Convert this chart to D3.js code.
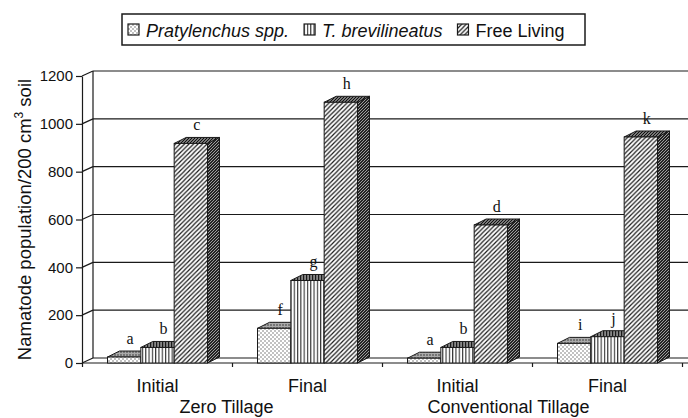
<!DOCTYPE html>
<html>
<head>
<meta charset="utf-8">
<script src="https://cdn.jsdelivr.net/npm/d3@7"></script>
<style>
  body { margin: 0; background: #fff; }
  text { font-family: "Liberation Sans", Arial, sans-serif; fill: #111; }
  .letter { font-family: "Liberation Serif", "Times New Roman", serif; }
</style>
</head>
<body>
<div class="chart"></div>
<script>
const categories = ['Initial', 'Final', 'Initial', 'Final']
const groups = ['Zero Tillage', 'Conventional Tillage']
const seriesNames = ['Pratylenchus spp.', 'T. brevilineatus', 'Free Living']
const pratylenchus = [25, 145, 20, 82]
const brevilineatus = [65, 345, 65, 110]
const freeLiving = [918, 1090, 577, 945]
const pratLetters = ['a', 'f', 'a', 'i']
const brevLetters = ['b', 'g', 'b', 'j']
const freeLetters = ['c', 'h', 'd', 'k']
const yTicks = [0, 200, 400, 600, 800, 1000, 1200]

const width = 688, height = 418
const depth = {x: 11, y: -5}      // wall depth
const barDepth = {x: 12, y: -6}   // bar depth
const ink = '#1a1a1a'

const svg = d3.select('.chart').append('svg')
    .attr('width', width)
    .attr('height', height)

const defs = svg.append('defs')

// patterns
function pattern(id, w, h, draw){
    const p = defs.append('pattern').attr('id', id)
        .attr('patternUnits', 'userSpaceOnUse')
        .attr('width', w).attr('height', h)
    draw(p)
}
pattern('dots', 4, 4, p => {
    p.append('rect').attr('width', 4).attr('height', 4).attr('fill', '#fff')
    p.append('circle').attr('cx', 1).attr('cy', 1).attr('r', 0.7).attr('fill', '#555')
    p.append('circle').attr('cx', 3).attr('cy', 3).attr('r', 0.7).attr('fill', '#555')
})
pattern('dotsTop', 3, 3, p => {
    p.append('rect').attr('width', 3).attr('height', 3).attr('fill', '#aaa')
    p.append('circle').attr('cx', 1).attr('cy', 1).attr('r', 0.8).attr('fill', '#333')
})
pattern('vlines', 3.3, 10, p => {
    p.append('rect').attr('width', 3.3).attr('height', 10).attr('fill', '#fff')
    p.append('line').attr('x1', 0.6).attr('x2', 0.6).attr('y1', 0).attr('y2', 10)
        .attr('stroke', ink).attr('stroke-width', 1)
})
pattern('vlinesTop', 3, 10, p => {
    p.append('rect').attr('width', 3).attr('height', 10).attr('fill', '#888')
    p.append('line').attr('x1', 0.6).attr('x2', 0.6).attr('y1', 0).attr('y2', 10)
        .attr('stroke', ink).attr('stroke-width', 1.2)
})
pattern('diag', 4.5, 4.5, p => {
    p.append('rect').attr('width', 4.5).attr('height', 4.5).attr('fill', '#fff')
    p.append('path').attr('d', 'M0,4.5L4.5,0M-1,1L1,-1M3.5,5.5L5.5,3.5')
        .attr('stroke', ink).attr('stroke-width', 1.2)
})
pattern('diagDark', 3, 3, p => {
    p.append('rect').attr('width', 3).attr('height', 3).attr('fill', '#222')
    p.append('path').attr('d', 'M0,3L3,0')
        .attr('stroke', '#bbb').attr('stroke-width', 0.8)
})
pattern('diagTop', 3, 3, p => {
    p.append('rect').attr('width', 3).attr('height', 3).attr('fill', '#777')
    p.append('path').attr('d', 'M0,3L3,0')
        .attr('stroke', '#111').attr('stroke-width', 1)
})

const fronts = ['url(#dots)', 'url(#vlines)', 'url(#diag)']
const tops = ['url(#dotsTop)', 'url(#vlinesTop)', 'url(#diagTop)']
const sides = ['url(#dotsTop)', 'url(#vlinesTop)', 'url(#diagDark)']

// scales
const x0 = d3.scaleBand().domain(d3.range(categories.length)).range([82.5, 682.5])
const x1 = d3.scaleBand().domain(d3.range(seriesNames.length))
    .range([0, x0.bandwidth()]).paddingOuter(0.75)
const y = d3.scaleLinear().domain([0, 1200]).range([363, 76])

const axisX = x0.range()[0] - 0.5

// back wall gridlines + left wall
const wall = svg.append('g').attr('stroke', ink).attr('stroke-width', 1.2).attr('fill', 'none')
yTicks.forEach(t => {
    wall.append('line')
        .attr('x1', axisX + depth.x).attr('x2', width)
        .attr('y1', y(t) + depth.y).attr('y2', y(t) + depth.y)
    wall.append('line')
        .attr('x1', axisX).attr('x2', axisX + depth.x)
        .attr('y1', y(t)).attr('y2', y(t) + depth.y)
})
wall.append('line')
    .attr('x1', axisX + depth.x).attr('x2', axisX + depth.x)
    .attr('y1', y(1200) + depth.y).attr('y2', y(0) + depth.y)

// floor front edge
wall.append('line')
    .attr('x1', axisX).attr('x2', width)
    .attr('y1', y(0)).attr('y2', y(0))

// category ticks
d3.range(categories.length + 1).forEach(i => {
    const xx = i < categories.length ? x0(i) : x0.range()[1]
    wall.append('line').attr('x1', xx).attr('x2', xx)
        .attr('y1', y(0)).attr('y2', y(0) + 4)
})

// y axis
const yAxis = svg.append('g')
    .attr('transform', 'translate(' + axisX + ',0)')
    .call(d3.axisLeft(y).tickValues(yTicks).tickFormat(d3.format('d'))
        .tickSize(6).tickSizeOuter(0).tickPadding(3))
yAxis.selectAll('path, line').attr('stroke', ink).attr('stroke-width', 1.2)
yAxis.selectAll('text')
    .style('font-family', '"Liberation Sans", Arial, sans-serif')
    .style('font-size', '15px')
    .attr('fill', '#111')

// bars
const seriesValues = [pratylenchus, brevilineatus, freeLiving]
const seriesLetters = [pratLetters, brevLetters, freeLetters]
const bars = svg.append('g').attr('stroke', ink).attr('stroke-width', 1)

categories.forEach((c, ci) => {
    seriesValues.forEach((vals, si) => {
        const v = vals[ci]
        const xl = x0(ci) + x1(si)
        const xr = xl + x1.bandwidth()
        const yt = y(v), yb = y(0)
        const dx = barDepth.x, dy = barDepth.y
        // side
        bars.append('path')
            .attr('d', `M${xr},${yt}L${xr+dx},${yt+dy}L${xr+dx},${yb+dy}L${xr},${yb}Z`)
            .attr('fill', sides[si])
        // top
        bars.append('path')
            .attr('d', `M${xl},${yt}L${xl+dx},${yt+dy}L${xr+dx},${yt+dy}L${xr},${yt}Z`)
            .attr('fill', tops[si])
        // front
        bars.append('rect')
            .attr('x', xl).attr('y', yt)
            .attr('width', x1.bandwidth()).attr('height', yb - yt)
            .attr('fill', fronts[si])
        // significance letter
        svg.append('text').attr('class', 'letter')
            .attr('x', xl + x1.bandwidth() / 2 + dx / 2)
            .attr('y', yt - 13)
            .attr('text-anchor', 'middle')
            .style('font-size', '16px')
            .text(seriesLetters[si][ci])
    })
})

// category labels
categories.forEach((c, ci) => {
    svg.append('text')
        .attr('x', x0(ci) + x0.bandwidth() / 2)
        .attr('y', 392)
        .attr('text-anchor', 'middle')
        .style('font-size', '18px')
        .text(c)
})
const groupShift = [-6, -24]
groups.forEach((g, gi) => {
    const cx = (x0(gi * 2) + x0(gi * 2 + 1) + x0.bandwidth()) / 2
    svg.append('text')
        .attr('x', cx + groupShift[gi])
        .attr('y', 413)
        .attr('text-anchor', 'middle')
        .style('font-size', '18px')
        .text(g)
})

// y title
const yt = svg.append('text')
    .attr('transform', 'translate(31,' + (y(0) + y(1200)) / 2 + ') rotate(-90)')
    .attr('text-anchor', 'middle')
    .style('font-size', '18.5px')
yt.append('tspan').text('Namatode population/200 cm')
yt.append('tspan').attr('dy', -8).style('font-size', '12px').text('3')
yt.append('tspan').attr('dy', 8).text(' soil')

// legend
const legend = svg.append('g')
legend.append('rect')
    .attr('x', 122).attr('y', 14).attr('width', 463).attr('height', 31)
    .attr('fill', '#fff').attr('stroke', ink).attr('stroke-width', 1.5)
let lx = 128
seriesNames.forEach((s, si) => {
    legend.append('rect')
        .attr('x', lx).attr('y', 24).attr('width', 11).attr('height', 11)
        .attr('fill', fronts[si]).attr('stroke', ink).attr('stroke-width', 1.2)
    const t = legend.append('text')
        .attr('x', lx + 18).attr('y', 37)
        .style('font-size', '18px')
        .style('font-style', si < 2 ? 'italic' : 'normal')
        .text(s)
    lx = lx + 18 + t.node().getComputedTextLength() + 15
})
</script>
</body>
</html>
